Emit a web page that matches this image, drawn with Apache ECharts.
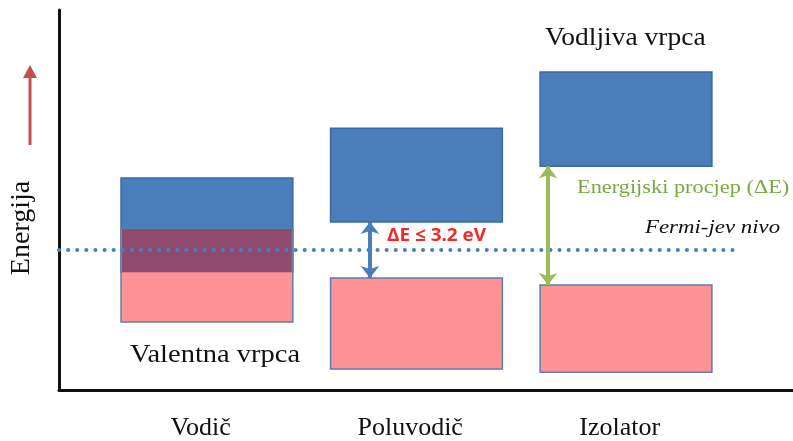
<!DOCTYPE html>
<html>
<head>
<meta charset="utf-8">
<script src="https://cdn.jsdelivr.net/npm/echarts@6/dist/echarts.min.js"></script>
<style>
html,body{margin:0;padding:0;background:#fff;}
#main{width:793px;height:441px;}
</style>
</head>
<body>
<div id="main"></div>
<script>
// ---- data ----
const categories = ['Vodič', 'Poluvodič', 'Izolator'];
const conductionTop = [55.8, 68.9, 83.7];
const conductionBottom = [31.0, 44.2, 58.9];
const valenceTop = [42.4, 29.5, 27.6];
const valenceBottom = [17.9, 5.5, 4.7];
const fermiLevel = 36.8;
const gapLabel = 'ΔE ≤ 3.2 eV';

// ---- layout constants ----
const X_MIN = -0.706, X_MAX = 2.797;
const HALF_W = 0.41;
const FERMI_END = 2.51;
const LABEL_SHIFT = -0.03;

const chart = echarts.init(document.getElementById('main'));
const bandData = categories.map((c, i) => [i, conductionTop[i], conductionBottom[i], valenceTop[i], valenceBottom[i]]);

const serif = '"Liberation Serif", "DejaVu Serif", serif';

function renderItem(params, api) {
  const i = api.value(0);
  const cT = api.value(1), cB = api.value(2), vT = api.value(3), vB = api.value(4);
  const p1 = api.coord([i - HALF_W, cT]);
  const p2 = api.coord([i + HALF_W, cB]);
  const q1 = api.coord([i - HALF_W, vT]);
  const q2 = api.coord([i + HALF_W, vB]);
  const children = [
    {type: 'rect', shape: {x: p1[0], y: p1[1], width: p2[0] - p1[0], height: p2[1] - p1[1]},
     style: {fill: '#4a7ebb', stroke: '#3b6aa3', lineWidth: 1.5}},
    {type: 'rect', shape: {x: q1[0], y: q1[1], width: q2[0] - q1[0], height: q2[1] - q1[1]},
     style: {fill: '#fe9294', stroke: '#5a7fb0', lineWidth: 1.5}}
  ];
  if (vT > cB) {
    const o1 = api.coord([i - HALF_W, Math.min(vT, cT)]);
    const o2 = api.coord([i + HALF_W, Math.max(cB, vB)]);
    children.push({type: 'rect', shape: {x: o1[0] + 1, y: o1[1], width: o2[0] - o1[0] - 2, height: o2[1] - o1[1]},
      style: {fill: '#8e4b6e'}});
  }
  return {type: 'group', children};
}

function label(text, x, y, font, fill, sx) {
  return {type: 'text', x: x, y: y, scaleX: sx || 1,
    style: {text: text, font: font, fill: fill, verticalAlign: 'middle'}};
}

const option = {
  animation: false,
  grid: {left: 59, right: 0, top: 10, bottom: 51},
  xAxis: {
    type: 'value', min: X_MIN, max: X_MAX,
    axisLine: {show: true, onZero: false, lineStyle: {color: '#111', width: 3}},
    axisTick: {show: false},
    splitLine: {show: false},
    axisLabel: {
      customValues: categories.map((c, i) => i + LABEL_SHIFT),
      formatter: v => categories[Math.round(v)],
      color: '#111', fontFamily: serif, fontSize: 26, margin: 25
    }
  },
  yAxis: {
    type: 'value', min: 0, max: 100,
    axisLine: {show: true, onZero: false, lineStyle: {color: '#111', width: 3}},
    axisTick: {show: false}, axisLabel: {show: false}, splitLine: {show: false}
  },
  series: [
    {
      type: 'custom', renderItem: renderItem, data: bandData, z: 2,
      encode: {x: 0, y: [1, 2, 3, 4]}
    },
    {
      type: 'line', data: [], z: 3,
      markLine: {
        silent: true,
        data: [
          [{coord: [X_MIN, fermiLevel], symbol: 'none', lineStyle: {color: '#4a7ebb', width: 4, type: [0.1, 9], cap: 'round'}},
           {coord: [FERMI_END, fermiLevel], symbol: 'none'}],
          [{coord: [0.778, conductionBottom[1]], lineStyle: {color: '#4a7ebb', width: 4, type: 'solid'}},
           {coord: [0.778, valenceTop[1]]}],
          [{coord: [1.628, conductionBottom[2]], lineStyle: {color: '#9bbb59', width: 4, type: 'solid'}},
           {coord: [1.628, valenceTop[2]]}]
        ],
        symbol: ['arrow', 'arrow'],
        symbolSize: [14, 12],
        label: {show: false}
      }
    }
  ],
  graphic: [
    {type: 'text', x: 22, y: 228, rotation: Math.PI / 2,
     style: {text: 'Energija', font: '28px ' + serif, fill: '#111', align: 'center', verticalAlign: 'middle'}},
    {type: 'line', shape: {x1: 30, y1: 145, x2: 30, y2: 74}, style: {stroke: '#c0504d', lineWidth: 3}},
    {type: 'polygon', shape: {points: [[30, 65], [23, 78], [37, 78]]}, style: {fill: '#c0504d'}},
    label('Vodljiva vrpca', 545, 38, '25px ' + serif, '#111', 1.1),
    label('Valentna vrpca', 130, 355, '25px ' + serif, '#111', 1.14),
    label('Energijski procjep (ΔE)', 577, 188, '18px ' + serif, '#77a843', 1.24),
    label('Fermi-jev nivo', 645, 228, 'italic 18px ' + serif, '#111', 1.27),
    label(gapLabel, 387, 236, 'bold 18px "Open Sans", "Liberation Sans", sans-serif', '#ee2a2a', 1.05)
  ]
};
chart.setOption(option);
</script>
</body>
</html>
